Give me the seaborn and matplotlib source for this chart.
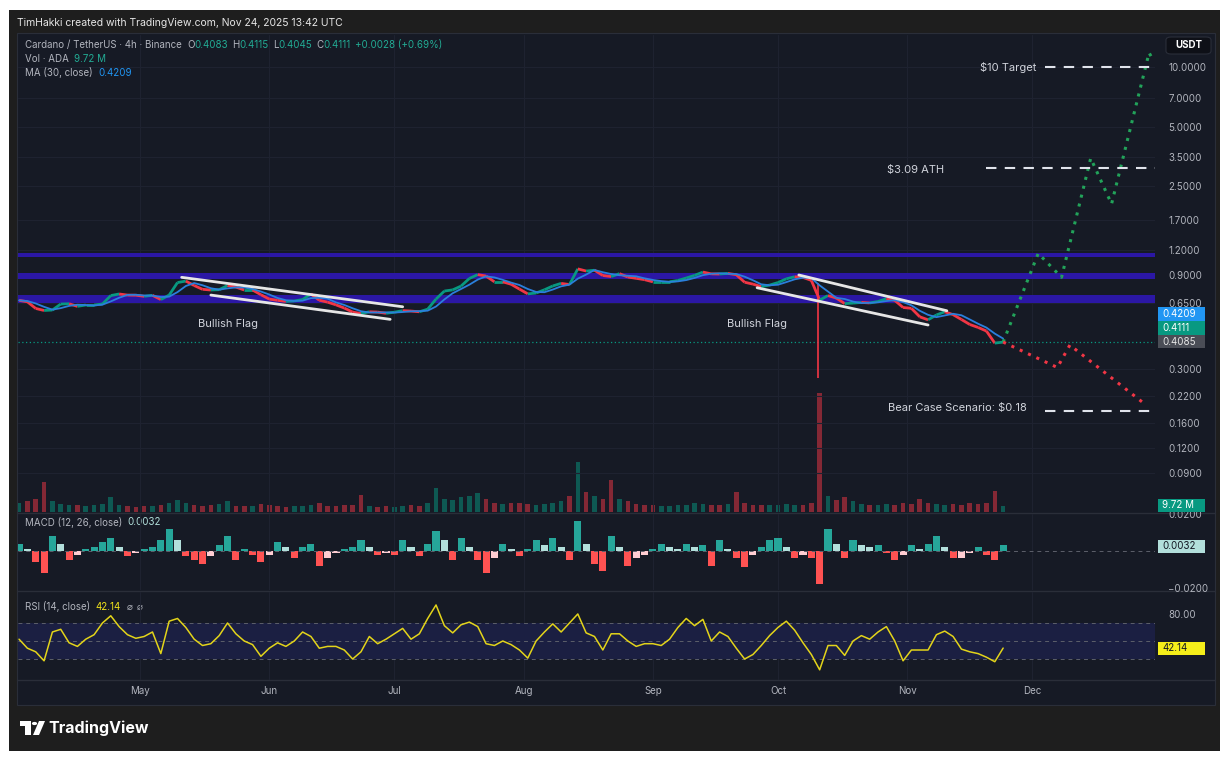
import numpy as np
import pandas as pd
import matplotlib
matplotlib.use("Agg")
import matplotlib.pyplot as plt
import matplotlib.dates as mdates
from matplotlib.ticker import NullLocator
from matplotlib.collections import LineCollection
from matplotlib.patches import Rectangle, FancyBboxPatch, Polygon, Circle
import seaborn as sns

sns.set_style("dark")
plt.rcParams["font.family"] = ["Inter", "DejaVu Sans"]

# ---- data (one sample every 2 days, Apr 2 -> Nov 24) ----
start_date = "2025-04-02"
close = [0.667, 0.656, 0.607, 0.593, 0.596, 0.639, 0.641, 0.622, 0.632, 0.632,
         0.639, 0.705, 0.718, 0.709, 0.708, 0.699, 0.707, 0.673, 0.709, 0.820,
         0.834, 0.792, 0.758, 0.752, 0.755, 0.792, 0.778, 0.752, 0.752, 0.712,
         0.677, 0.667, 0.659, 0.662, 0.673, 0.718, 0.668, 0.653, 0.633, 0.610,
         0.582, 0.572, 0.584, 0.582, 0.574, 0.581, 0.592, 0.589, 0.584, 0.602,
         0.677, 0.743, 0.753, 0.787, 0.860, 0.899, 0.884, 0.827, 0.827, 0.804,
         0.760, 0.719, 0.726, 0.754, 0.788, 0.812, 0.801, 0.961, 0.937, 0.946,
         0.890, 0.879, 0.909, 0.874, 0.861, 0.848, 0.827, 0.827, 0.827, 0.840,
         0.864, 0.891, 0.926, 0.907, 0.905, 0.912, 0.898, 0.823, 0.805, 0.782,
         0.796, 0.820, 0.856, 0.877, 0.870, 0.841, 0.669, 0.705, 0.685, 0.642,
         0.646, 0.651, 0.647, 0.658, 0.680, 0.667, 0.614, 0.608, 0.551, 0.532,
         0.563, 0.584, 0.565, 0.534, 0.504, 0.487, 0.467, 0.406, 0.411]
volume_m = [13, 16, 20, 45, 16, 12, 10, 11, 9, 10,
            12, 22, 11, 9, 8, 9, 9, 10, 13, 18,
            13, 11, 9, 10, 12, 16, 9, 9, 9, 12,
            10, 9, 8, 9, 9, 10, 13, 9, 9, 10,
            11, 26, 9, 8, 9, 8, 9, 10, 9, 13,
            36, 20, 18, 22, 24, 28, 20, 14, 12, 13,
            14, 12, 11, 12, 13, 17, 24, 76, 30, 24,
            20, 48, 20, 16, 12, 11, 10, 9, 9, 10,
            11, 13, 12, 10, 11, 12, 30, 13, 11, 10,
            10, 11, 12, 10, 11, 13, 180, 24, 18, 22,
            17, 12, 11, 10, 12, 11, 13, 12, 20, 14,
            12, 11, 12, 11, 13, 12, 13, 32, 9.72]
macd_hist = [0.004, 0.001, -0.006, -0.012, 0.008, 0.004, -0.005, -0.002, 0.001, 0.002,
             0.005, 0.007, 0.002, -0.003, -0.001, 0.001, 0.002, 0.006, 0.012, 0.006,
             -0.003, -0.005, -0.007, -0.003, 0.003, 0.008, -0.005, 0.001, -0.002, -0.006,
             -0.002, 0.005, 0.002, -0.004, 0.002, 0.004, -0.008, -0.004, -0.001, 0.001,
             0.002, 0.006, 0.002, -0.002, -0.001, -0.002, 0.006, 0.002, -0.003, 0.004,
             0.011, 0.006, -0.005, 0.007, 0.002, -0.005, -0.012, -0.004, 0.004, 0.001,
             -0.003, 0.001, 0.006, 0.003, 0.007, 0.002, -0.005, 0.0165, 0.004, -0.007,
             -0.011, 0.008, 0.002, -0.008, -0.004, -0.002, 0.001, 0.004, 0.002, 0.001,
             0.004, 0.002, 0.003, -0.008, 0.006, 0.001, -0.004, -0.009, -0.002, 0.002,
             0.006, 0.007, 0.002, -0.004, -0.002, -0.004, -0.018, 0.012, 0.004, -0.004,
             0.006, 0.003, 0.002, 0.003, -0.001, -0.005, -0.002, 0.003, 0.001, 0.004,
             0.008, 0.002, -0.004, -0.004, -0.001, 0.002, -0.002, -0.005, 0.0032]
rsi = [52, 42, 38, 28, 60, 63, 48, 44, 52, 57,
       70, 78, 66, 57, 53, 55, 60, 36, 72, 75,
       65, 52, 45, 47, 56, 70, 58, 50, 46, 33,
       42, 48, 44, 50, 60, 55, 42, 44, 44, 40,
       30, 38, 55, 47, 52, 58, 64, 52, 58, 75,
       90, 67, 59, 68, 71, 66, 47, 45, 50, 46,
       40, 31, 50, 60, 69, 60, 70, 80, 59, 55,
       40, 58, 58, 50, 44, 47, 47, 45, 52, 65,
       75, 67, 74, 50, 60, 55, 42, 30, 35, 45,
       56, 65, 72, 62, 48, 35, 18, 45, 45, 34,
       50, 56, 52, 60, 66, 50, 28, 40, 40, 40,
       57, 61, 55, 41, 38, 36, 32, 27, 42.14]

crash_date = "2025-10-10 14:00"
crash_high = 0.82
crash_low = 0.271

band_low = [1.10, 0.855, 0.645]
band_high = [1.16, 0.92, 0.71]

bull_dates = ["2025-11-24 00:00", "2025-12-02 10:00", "2025-12-08 00:00", "2025-12-15 00:00",
              "2025-12-20 00:00", "2025-12-29 00:00", "2025-12-30 00:00"]
bull_prices = [0.411, 1.15, 0.871, 3.47, 2.04, 11.8, 10.8]
bear_dates = ["2025-11-24", "2025-12-07", "2025-12-10", "2025-12-28"]
bear_prices = [0.411, 0.306, 0.397, 0.200]

flag_dates = [["2025-05-11 00:00", "2025-07-03 00:00"], ["2025-05-18 00:00", "2025-06-30 00:00"],
              ["2025-10-06 00:00", "2025-11-10 12:00"], ["2025-09-26 00:00", "2025-11-06 00:00"]]
flag_prices = [[0.871, 0.619], [0.709, 0.535], [0.895, 0.591], [0.772, 0.501]]

target_prices = [10.0, 3.09, 0.185]
target_starts = ["2025-12-04", "2025-11-20", "2025-12-04"]

price_ticks = [10, 7, 5, 3.5, 2.5, 1.7, 1.2, 0.9, 0.65, 0.3, 0.22, 0.16, 0.12, 0.09]
month_starts = ["2025-05-01", "2025-06-01", "2025-07-01", "2025-08-01",
                "2025-09-01", "2025-10-01", "2025-11-01", "2025-12-01"]
month_labels = ["May", "Jun", "Jul", "Aug", "Sep", "Oct", "Nov", "Dec"]

# ---- colours ----
UP, DOWN = "#089981", "#f23645"
BG, FRAME = "#161a25", "#1e1e1e"
GRID = "#1e2230"
TXT, LBL = "#d1d4dc", "#b2b5be"

W, H = 1228, 757
fx = lambda x: x / W
fy = lambda y: 1 - y / H
fr = lambda x0, y0, x1, y1: [x0 / W, 1 - y1 / H, (x1 - x0) / W, (y1 - y0) / H]
to_dt = lambda l: pd.to_datetime(l, format="mixed")
d2n = lambda s: mdates.date2num(pd.Timestamp(s))

dates = pd.date_range(start_date, periods=len(close), freq="2D")
xs = mdates.date2num(dates)
opens = [close[0]] + close[:-1]
is_up = [c >= o for c, o in zip(close, opens)]
xlim = (pd.Timestamp("2025-04-01 18:00"), pd.Timestamp("2025-12-30 10:00"))
months = pd.to_datetime(month_starts)

fig = plt.figure(figsize=(12.28, 7.57), dpi=100, facecolor="white")
fig.add_artist(Rectangle((fx(9), fy(751)), (1220 - 9) / W, (751 - 10) / H,
                         transform=fig.transFigure, fc=FRAME, ec="none", zorder=-3))
fig.add_artist(Rectangle((fx(17), fy(705)), (1215 - 17) / W, (705 - 33) / H,
                         transform=fig.transFigure, fc=BG, ec="#2a2e39", lw=0.8, zorder=-2))
for yy in [513, 591, 680]:
    fig.add_artist(plt.Line2D([fx(17), fx(1215)], [fy(yy), fy(yy)], transform=fig.transFigure,
                              color="#2a2e39", lw=1, zorder=-1))

axv = fig.add_axes(fr(18, 35, 1155, 512))
ax = fig.add_axes(fr(18, 35, 1155, 512))
axm = fig.add_axes(fr(18, 514, 1155, 590))
axr = fig.add_axes(fr(18, 592, 1155, 680))

for a in [axv, ax, axm, axr]:
    a.set_facecolor("none")
    for s in a.spines.values():
        s.set_visible(False)
    a.set_xlim(*xlim)
    a.set_xticks(months)
    a.tick_params(axis="x", length=0, labelbottom=False)
    a.set_axisbelow(True)

# ---- volume ----
axv.bar(dates, volume_m, width=1.1, color=[UP if u else DOWN for u in is_up], alpha=0.5, lw=0)
axv.set_ylim(0, 720)
axv.set_yticks([])
axv.grid(False)

# ---- price pane ----
ax.set_yscale("log")
ax.set_ylim(0.0572, 14.5)
ax.set_yticks(price_ticks)
ax.set_yticklabels([f"{v:.4f}" for v in price_ticks])
ax.yaxis.set_minor_locator(NullLocator())
ax.yaxis.tick_right()
ax.tick_params(axis="y", length=0, pad=9.5, labelsize=7, labelcolor=LBL)
ax.grid(True, color=GRID, lw=0.8)

for lo, hi in zip(band_low, band_high):
    ax.axhspan(lo, hi, color="#2b17a5", lw=0, zorder=1)

ax.axhline(close[-1], color=UP, ls=(0, (1, 2)), lw=0.9, zorder=2)

pts = np.column_stack([xs, close])
segs = np.stack([pts[:-1], pts[1:]], axis=1)
lc = LineCollection(segs, colors=[UP if u else DOWN for u in is_up[1:]], linewidths=2.0, zorder=3)
ax.add_collection(lc)
ax.vlines(d2n(crash_date), crash_low, crash_high, color=DOWN, lw=1.2, zorder=3)

ma = pd.Series(close).rolling(3, min_periods=1).mean()
sns.lineplot(x=dates, y=ma.values, ax=ax, color="#2a7fdc", linewidth=1.3, zorder=4)

for d, p in zip(flag_dates, flag_prices):
    sns.lineplot(x=to_dt(d), y=p, ax=ax, color="#e6e6e6", linewidth=2,
                 solid_capstyle="round", zorder=5)

sns.lineplot(x=to_dt(bull_dates), y=bull_prices, ax=ax, color="#22a35a",
             linewidth=2.2, linestyle=(0, (1, 2)), zorder=5)
sns.lineplot(x=to_dt(bear_dates), y=bear_prices, ax=ax, color=DOWN,
             linewidth=2.2, linestyle=(0, (1, 2)), zorder=5)

for p, s in zip(target_prices, target_starts):
    ax.hlines(p, d2n(s), mdates.date2num(xlim[1]),
              color="#e0e3eb", lw=1.5, ls=(0, (5, 4)), zorder=5)

ax.text(d2n("2025-12-02"), 10.0, "$10 Target", color=TXT, fontsize=8, ha="right", va="center")
ax.text(d2n("2025-11-03"), 3.03, "$3.09 ATH", color=TXT, fontsize=8, ha="center", va="center")
ax.text(d2n("2025-10-27 10:00"), 0.191, "Bear Case Scenario: $0.18", color=TXT, fontsize=8,
        ha="left", va="center")
ax.text(d2n("2025-05-22"), 0.507, "Bullish Flag", color=TXT, fontsize=8, ha="center", va="center")
ax.text(d2n("2025-09-26"), 0.507, "Bullish Flag", color=TXT, fontsize=8, ha="center", va="center")
ax.set_xlim(*xlim)
ax.set_xlabel("")
ax.set_ylabel("")

# ---- MACD pane ----
hist_cols = []
prev = 0.0
for v in macd_hist:
    if v >= 0:
        hist_cols.append("#26a69a" if v >= prev else "#b2dfdb")
    else:
        hist_cols.append("#ff5252" if v < prev else "#ffcdd2")
    prev = v
axm.bar(dates, macd_hist, width=1.7, color=hist_cols, lw=0)
axm.axhline(0, color="#5d606b", lw=0.7, ls=(0, (4, 4)))
axm.set_ylim(-0.0213, 0.0202)
axm.set_yticks([0.02, -0.02])
axm.set_yticklabels(["0.0200", "\u22120.0200"])
axm.yaxis.tick_right()
axm.tick_params(axis="y", length=0, pad=9.5, labelsize=7, labelcolor=LBL)
axm.grid(True, axis="x", color=GRID, lw=0.8)

# ---- RSI pane ----
axr.axhspan(30, 70, color="#1b1f42", lw=0)
for lvl in [70, 50, 30]:
    axr.axhline(lvl, color="#5d606b", lw=0.7, ls=(0, (4, 4)))
sns.lineplot(x=dates, y=rsi, ax=axr, color="#e3d41a", linewidth=1.1)
axr.set_xlim(*xlim)
axr.set_ylim(6.7, 104.4)
axr.set_yticks([80])
axr.set_yticklabels(["80.00"])
axr.yaxis.tick_right()
axr.tick_params(axis="y", length=0, pad=9.5, labelsize=7, labelcolor=LBL)
axr.grid(True, axis="x", color=GRID, lw=0.8)
axr.set_xticks(months)
axr.set_xticklabels(month_labels)
axr.tick_params(axis="x", length=0, labelbottom=True, labelsize=7, labelcolor=LBL, pad=4)
axr.set_xlabel("")
axr.set_ylabel("")

# ---- header / legend texts ----
fig.text(fx(17), fy(23), "TimHakki created with TradingView.com, Nov 24, 2025 13:42 UTC",
         color="#e6e6e6", fontsize=7.5, va="center", ha="left")


def rich(x, y, parts, size=7):
    prev_t = fig.text(fx(x), fy(y), parts[0][0], color=parts[0][1], fontsize=size, va="center", ha="left")
    for s, c, gap in parts[1:]:
        prev_t = ax.annotate(s, xy=(1, 0.5), xycoords=prev_t, xytext=(gap, 0),
                             textcoords="offset points", color=c, fontsize=size,
                             va="center", ha="left", annotation_clip=False)


G = "#22ab94"
rich(25, 45, [("Cardano / TetherUS \u00b7 4h \u00b7 Binance", LBL),
              ("O", LBL, 4), ("0.4083", G, 0), ("H", LBL, 3), ("0.4115", G, 0),
              ("L", LBL, 3), ("0.4045", G, 0), ("C", LBL, 3), ("0.4111", G, 0),
              ("+0.0028 (+0.69%)", G, 3)])
rich(25, 59, [("Vol \u00b7 ADA", LBL), ("9.72 M", G, 4)])
rich(25, 73, [("MA (30, close)", LBL), ("0.4209", "#2196f3", 4)])
rich(25, 522, [("MACD (12, 26, close)", LBL), ("0.0032", "#b2dfdb", 4)])
rich(25, 607, [("RSI (14, close)", LBL), ("42.14", "#f0e21b", 4), ("\u2300", LBL, 4), ("\u2300", LBL, 3)])


def tag(y, s, fc, tc):
    fig.add_artist(Rectangle((fx(1158), fy(y + 6.5)), 47 / W, 13 / H, transform=fig.transFigure,
                             fc=fc, ec="none", zorder=5))
    fig.text(fx(1162), fy(y), s, color=tc, fontsize=7, va="center", ha="left", zorder=6)


tag(314, "0.4209", "#2196f3", "white")
tag(328, "0.4111", UP, "white")
tag(342, "0.4085", "#4a4d56", "#e6e6e6")
tag(505, "9.72 M", UP, "white")
tag(546, "0.0032", "#b2dfdb", "#131722")
tag(648, "42.14", "#f5ee1a", "#131722")

fig.add_artist(FancyBboxPatch((fx(1166), fy(54)), 45 / W, 17 / H, boxstyle="round,pad=0,rounding_size=0.004",
                              transform=fig.transFigure, fc="#0e1017", ec="#2a2e39", lw=0.8, zorder=5))
fig.text(fx(1188.5), fy(45.5), "USDT", color="white", fontsize=7, fontweight="bold",
         ha="center", va="center", zorder=6)

# ---- TradingView logo ----
fig.add_artist(Rectangle((fx(20), fy(726)), 11 / W, 5 / H, transform=fig.transFigure, fc="white", ec="none"))
fig.add_artist(Rectangle((fx(25), fy(735)), 6 / W, 14 / H, transform=fig.transFigure, fc="white", ec="none"))
fig.add_artist(Circle((fx(34.5), fy(723.5)), 2.6 / W, transform=fig.transFigure, fc="white", ec="none"))
fig.add_artist(Polygon([(fx(33), fy(735)), (fx(39), fy(721)), (fx(45), fy(721)), (fx(39), fy(735))],
                       closed=True, transform=fig.transFigure, fc="white", ec="none"))
fig.text(fx(48), fy(728), "TradingView", color="white", fontsize=11.5, fontweight="bold",
         ha="left", va="center")

fig.savefig("out.png", dpi=100, facecolor="white")
